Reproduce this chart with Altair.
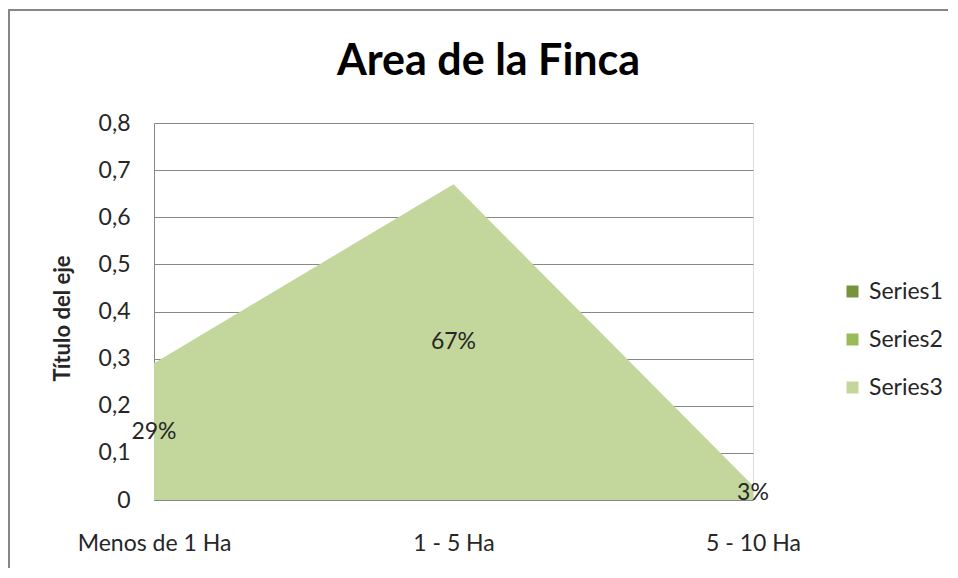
import altair as alt
import pandas as pd

categories = ["Menos de 1 Ha", "1 - 5 Ha", "5 - 10 Ha"]
series3 = [0.29, 0.67, 0.03]
labels = ["29%", "67%", "3%"]
series_names = ["Series1", "Series2", "Series3"]
series_colors = ["#77933C", "#9BBB59", "#C3D69B"]
y_ticks = [0, 0.1, 0.2, 0.3, 0.4, 0.5, 0.6, 0.7, 0.8]

FONT = "Lato"
TXT = "#262626"
GRID = "#888888"
FS = 23

df = pd.DataFrame({"cat": categories, "value": series3, "label": labels, "series": ["Series3"] * 3})

x_enc = alt.X(
    "cat:N", sort=categories,
    scale=alt.Scale(type="point", padding=0),
    axis=alt.Axis(title=None, labelAngle=0, labelPadding=32, ticks=False, domain=True,
                  domainColor=GRID, labelFontSize=FS, labelFont=FONT, labelColor=TXT, grid=False),
)
y_enc = alt.Y(
    "value:Q",
    scale=alt.Scale(domain=[0, 0.8], nice=False),
    axis=alt.Axis(values=y_ticks, labelExpr="replace(format(datum.value, '.1~f'), '.', ',')",
                  title="Título del eje", titleFont=FONT, titleFontSize=22, titleFontWeight="bold",
                  titleColor=TXT, titleAngle=270, titleX=-92, titleY=195, titleAlign="center",
                  titleBaseline="middle", labelFontSize=FS, labelFont=FONT, labelColor=TXT,
                  labelPadding=24, ticks=False, domain=True, domainColor=GRID,
                  grid=True, gridColor=GRID, gridWidth=1),
)

area = alt.Chart(df).mark_area(opacity=1).encode(
    x=x_enc, y=y_enc,
    color=alt.Color("series:N", scale=alt.Scale(domain=series_names, range=series_colors),
                    legend=alt.Legend(title=None, orient="none", legendX=687, legendY=157,
                                      symbolType="square", symbolSize=144, symbolStrokeWidth=0,
                                      labelFontSize=FS, labelFont=FONT, labelColor=TXT,
                                      rowPadding=24, labelOffset=5, padding=0)),
)

text = alt.Chart(df).transform_calculate(ly="datum.value / 2").mark_text(
    fontSize=FS, font=FONT, color=TXT, baseline="middle", align="center"
).encode(x=alt.X("cat:N", sort=categories), y=alt.Y("ly:Q"), text="label:N")

frame = alt.Chart(pd.DataFrame({"a": [0]})).mark_rect(
    fill=None, stroke="#868686", strokeWidth=2
).encode(x=alt.value(-145), x2=alt.value(1200), y=alt.value(-113), y2=alt.value(1000))

chart = alt.layer(frame, area, text).properties(
    width=599, height=377,
    title=alt.TitleParams("Area de la Finca", fontSize=43, fontWeight="bold", font=FONT,
                          color="#000000", anchor="middle", dx=35, offset=-75),
    autosize=alt.AutoSizeParams(type="none"),
    padding={"left": 146, "top": 115, "right": 195, "bottom": 68},
).configure_view(stroke=None).configure(background="white")

chart.save("out.html", embed_options={"renderer": "svg", "actions": False})
